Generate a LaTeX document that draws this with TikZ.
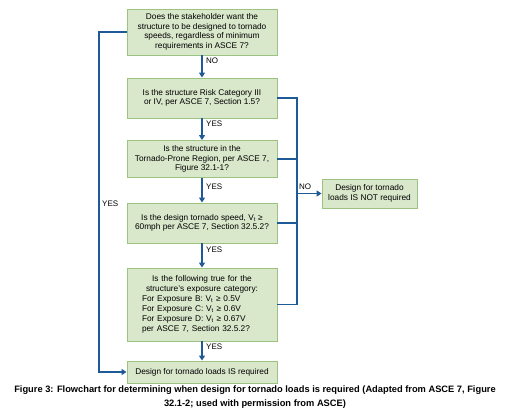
\documentclass[tikz,border=0pt]{standalone}
\usepackage{fontspec}
\setmainfont{Liberation Sans}
\usetikzlibrary{arrows.meta}
\definecolor{boxfill}{HTML}{D9E7CB}
\definecolor{boxline}{HTML}{9DC383}
\definecolor{flow}{HTML}{1E5B96}
\begin{document}
\begin{tikzpicture}[x=1pt,y=-1pt,
  qbox/.style={draw=boxline, fill=boxfill, line width=0.9pt, minimum width=150pt, inner sep=2pt, align=center, font=\fontsize{8.3}{9.6}\selectfont},
  flowline/.style={draw=flow, line width=1.4pt},
  flowarrow/.style={flowline, -{Triangle[length=5pt,width=6pt]}},
  lbl/.style={font=\fontsize{8}{9}\selectfont, inner sep=0pt, anchor=west}
]
\useasboundingbox (0,0) rectangle (510,415);

\node[qbox, minimum height=46pt] (q1) at (202,32) {Does the stakeholder want the\\structure to be designed to tornado\\speeds, regardless of minimum\\requirements in ASCE 7?};
\node[qbox, minimum height=40pt] (q2) at (202,98) {Is the structure Risk Category III\\or IV, per ASCE 7, Section 1.5?};
\node[qbox, minimum height=37pt] (q3) at (202,159) {Is the structure in the\\Tornado-Prone Region, per ASCE 7,\\Figure 32.1-1?};
\node[qbox, minimum height=40pt] (q4) at (202,223) {Is the design tornado speed, V\textsubscript{t} ≥\\60mph per ASCE 7, Section 32.5.2?};
\node[qbox, minimum height=73pt, inner xsep=15pt, text width=120pt, align=left, font=\fontsize{8.3}{10}\selectfont] (q5) at (202,304.5) {{\centering Is the following true for the\\structure's exposure category:\par}For Exposure B: V\textsubscript{t} ≥ 0.5V\\For Exposure C: V\textsubscript{t} ≥ 0.6V\\For Exposure D: V\textsubscript{t} ≥ 0.67V\\per ASCE 7, Section 32.5.2?};
\node[qbox, minimum height=22pt] (yes) at (202,372) {Design for tornado loads IS required};
\node[qbox, minimum width=95pt, minimum height=29pt] (no) at (369.5,193.5) {Design for tornado\\loads IS NOT required};

\node[align=center, inner sep=0pt, font=\bfseries\fontsize{9.3}{13.5}\selectfont] (cap) at (255,397) {Figure 3: Flowchart for determining when design for tornado loads is required (Adapted from ASCE 7, Figure\\32.1-2; used with permission from ASCE)};

\coordinate (bt) at (297,98);
\coordinate (bb) at (297,304.5);
\coordinate (lt) at (99,32);
\coordinate (lb) at (99,372);

\draw[flowarrow] (q1) -- (q2);
\draw[flowarrow] (q2) -- (q3);
\draw[flowarrow] (q3) -- (q4);
\draw[flowarrow] (q4) -- (q5);
\draw[flowarrow] (q5) -- (yes);
\draw[flowline] (q2.east) -- (bt) -- (bb) -- (q5.east);
\draw[flowline] (q3.east) -- (q3.east -| bt);
\draw[flowline] (q4.east) -- (q4.east -| bt);
\draw[flowarrow] (no.west -| bt) -- (no.west);
\draw[flowarrow] (q1.west) -- (lt) -- (lb) -- (yes.west);

\node[lbl] (l1) at (206,61) {NO};
\node[lbl] (l2) at (206,124) {YES};
\node[lbl] (l3) at (206,187) {YES};
\node[lbl] (l4) at (206,250) {YES};
\node[lbl] (l5) at (206,347) {YES};
\node[lbl] (l6) at (299,187) {NO};
\node[lbl] (l7) at (102,204) {YES};
\end{tikzpicture}
\end{document}
